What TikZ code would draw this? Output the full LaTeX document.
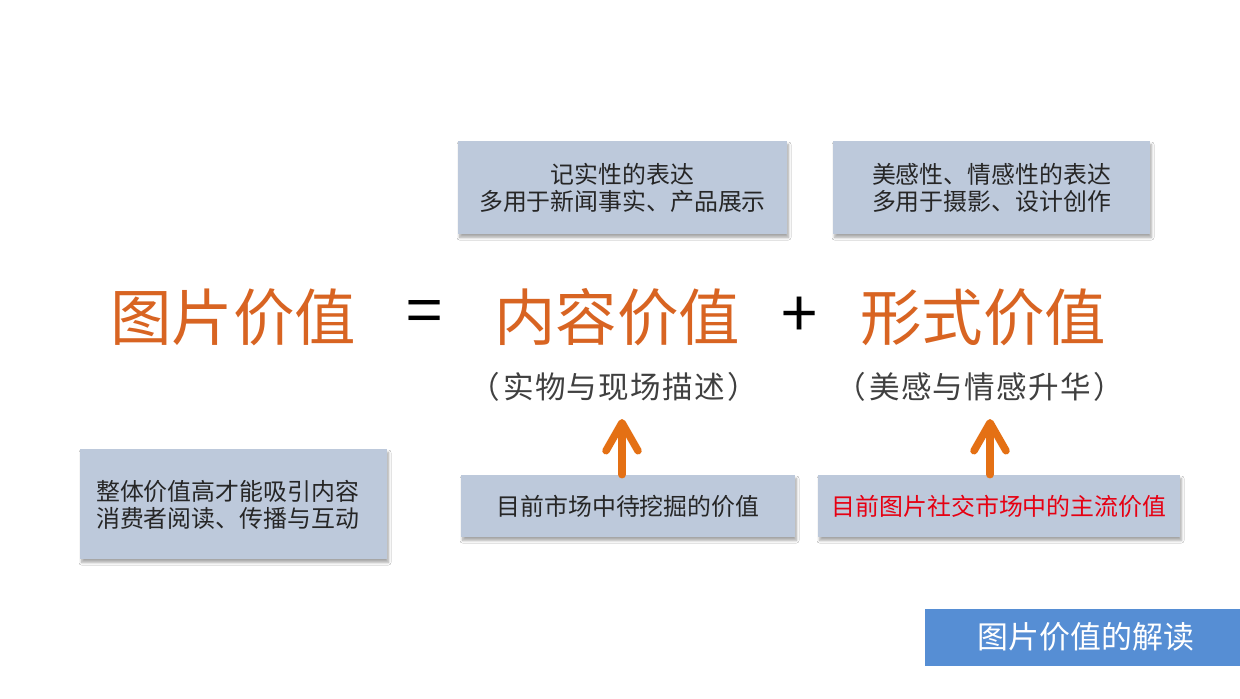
\documentclass[tikz,border=0pt]{standalone}
\usepackage{fontspec}
\setmainfont{Noto Sans CJK SC}
\newfontfamily\cjk{Noto Sans CJK SC}
\newfontfamily\cjksub[LetterSpace=4]{Noto Sans CJK SC}
\usetikzlibrary{arrows.meta,shadows.blur}
\definecolor{boxfill}{RGB}{189,201,219}
\definecolor{bigorange}{RGB}{216,100,34}
\definecolor{arroworange}{RGB}{228,112,20}
\definecolor{subgray}{RGB}{64,64,64}
\definecolor{hotred}{RGB}{230,0,18}
\definecolor{titleblue}{RGB}{86,142,212}
\tikzset{
  infobox/.style={fill=boxfill, draw=none, inner sep=0pt, align=center,
    blur shadow={shadow xshift=0.03cm, shadow yshift=-0.07cm, shadow blur steps=6, shadow blur radius=0.05cm, shadow opacity=35}},
  boxtext/.style={font=\cjk\fontsize{13.6pt}{15.4pt}\selectfont, text=black!85},
  bigtext/.style={font=\cjk\fontsize{35pt}{40pt}\selectfont, text=bigorange, inner sep=0pt},
  optext/.style={font=\cjk\fontsize{37pt}{40pt}\selectfont, text=black, inner sep=0pt},
  subtext/.style={font=\cjksub\fontsize{17.4pt}{19pt}\selectfont, text=subgray, inner sep=0pt},
  uparrow/.style={draw=arroworange, line width=0.15cm, line cap=round, -{Straight Barb[length=0.56cm, width=0.64cm, round]}},
}
\begin{document}
\begin{tikzpicture}[x=0.02cm,y=-0.02cm]
\useasboundingbox (0,0) rectangle (1240,698);
\fill[white] (0,0) rectangle (1240,698);

% upper description boxes
\node[infobox, minimum width=329*0.02cm, minimum height=93*0.02cm] (b1) at (622.5,187.5) {};
\node[boxtext, align=center] (t1) at (b1.center) {记实性的表达\\多用于新闻事实、产品展示};
\node[infobox, minimum width=317*0.02cm, minimum height=93*0.02cm] (b2) at (991.5,187.5) {};
\node[boxtext, align=center] (t2) at (b2.center) {美感性、情感性的表达\\多用于摄影、设计创作};

% equation
\node[bigtext] (v) at (233,317) {图片价值};
\node[optext] (eq) at (425,317) {=};
\node[bigtext] (c) at (617,317) {内容价值};
\node[optext] (plus) at (800,317) {+};
\node[bigtext] (f) at (983,317) {形式价值};

% subtitles
\node[subtext] (s1) at (614,387) {（\hspace{0.1em}实物与现场描述\hspace{0.1em}）};
\node[subtext] (s2) at (980,387) {（\hspace{0.1em}美感与情感升华\hspace{0.1em}）};

% left box
\node[infobox, minimum width=307*0.02cm, minimum height=110*0.02cm] (b3) at (233.5,504) {};
\node[boxtext, align=left, anchor=west] (t3) at (90,505) {整体价值高才能吸引内容\\消费者阅读、传播与互动};

% lower boxes
\node[infobox, minimum width=334*0.02cm, minimum height=62*0.02cm] (b4) at (628,506) {};
\node[boxtext] (t4) at (b4.center) {目前市场中待挖掘的价值};
\node[infobox, minimum width=362*0.02cm, minimum height=62*0.02cm] (b5) at (999,506) {};
\node[boxtext, text=hotred] (t5) at (b5.center) {目前图片社交市场中的主流价值};

% arrows
\coordinate (a1) at (622,419);
\coordinate (a2) at (990,419);
\draw[uparrow] (b4.north -| a1) -- (a1);
\draw[uparrow] (b5.north -| a2) -- (a2);

% title box
\node[fill=titleblue, minimum width=315*0.02cm, minimum height=57*0.02cm, inner sep=0pt] (tb) at (1082.5,637.5) {};
\node[font=\cjk\fontsize{17.6pt}{20pt}\selectfont, text=white] (tt) at (1086,637) {图片价值的解读};
\end{tikzpicture}
\end{document}
